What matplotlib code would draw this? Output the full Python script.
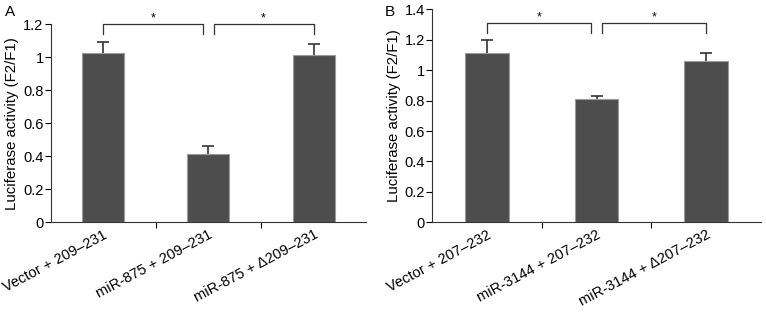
import matplotlib.pyplot as plt
from matplotlib.ticker import FixedLocator

plt.rcParams['font.family'] = ['Liberation Sans', 'DejaVu Sans']

labels_a = ["Vector + 209\u2013231", "miR-875 + 209\u2013231", "miR-875 + \u0394209\u2013231"]
means_a = [1.025, 0.415, 1.01]
errs_a = [0.068, 0.047, 0.068]
yticks_a = [0, 0.2, 0.4, 0.6, 0.8, 1, 1.2]

labels_b = ["Vector + 207\u2013232", "miR-3144 + 207\u2013232", "miR-3144 + \u0394207\u2013232"]
means_b = [1.11, 0.81, 1.06]
errs_b = [0.09, 0.022, 0.055]
yticks_b = [0, 0.2, 0.4, 0.6, 0.8, 1, 1.2, 1.4]

fig = plt.figure(figsize=(7.66, 3.13), dpi=100)
ax_a = fig.add_axes([0.066, 0.29, 0.412, 0.633])
ax_b = fig.add_axes([0.564, 0.29, 0.4295, 0.68])


def draw(ax, labels, means, errs, yticks, br_top, br_leg):
    x = range(len(means))
    # error bars sit behind the bars so only the upper half shows
    ax.errorbar(x, means, yerr=errs, fmt='none', ecolor='#333333',
                elinewidth=1.2, capsize=4, capthick=1.2, zorder=2)
    ax.bar(x, means, width=0.4, color='#4d4d4d', edgecolor='#9a9a9a', linewidth=0.8, zorder=3)
    ax.set_xlim(-0.5, 2.5)
    ax.set_ylim(0, yticks[-1])
    ax.set_yticks(yticks)
    ax.set_yticklabels([('%g' % t) for t in yticks], fontsize=10.5)
    ax.set_xticks(list(x))
    ax.set_xticklabels(labels, rotation=28, ha='right', rotation_mode='anchor', fontsize=10.5)
    ax.tick_params(axis='x', which='major', length=0, pad=4)
    ax.xaxis.set_minor_locator(FixedLocator([0.5, 1.5]))
    ax.tick_params(axis='x', which='minor', length=4, direction='out', width=0.8)
    ax.tick_params(axis='y', length=4, width=0.8, pad=1)
    for s in ['top', 'right']:
        ax.spines[s].set_visible(False)
    for s in ['left', 'bottom']:
        ax.spines[s].set_linewidth(0.8)
        ax.spines[s].set_color('#333333')
    ax.set_ylabel("Luciferase activity (F2/F1)", fontsize=10.8, labelpad=3)
    for x0, x1 in [(0, 0.95), (1.05, 2)]:
        ax.plot([x0, x0, x1, x1], [br_leg, br_top, br_top, br_leg], color='#333333',
                lw=0.9, clip_on=False)
        ax.text((x0 + x1) / 2, br_top, '*', ha='center', va='bottom', fontsize=9)


draw(ax_a, labels_a, means_a, errs_a, yticks_a, 1.2, 1.14)
draw(ax_b, labels_b, means_b, errs_b, yticks_b, 1.308, 1.247)

fig.text(5 / 766, 1 - 12 / 313, 'A', fontsize=11, va='center')
fig.text(385 / 766, 1 - 12 / 313, 'B', fontsize=11, va='center')

fig.savefig('out.png', dpi=100)
